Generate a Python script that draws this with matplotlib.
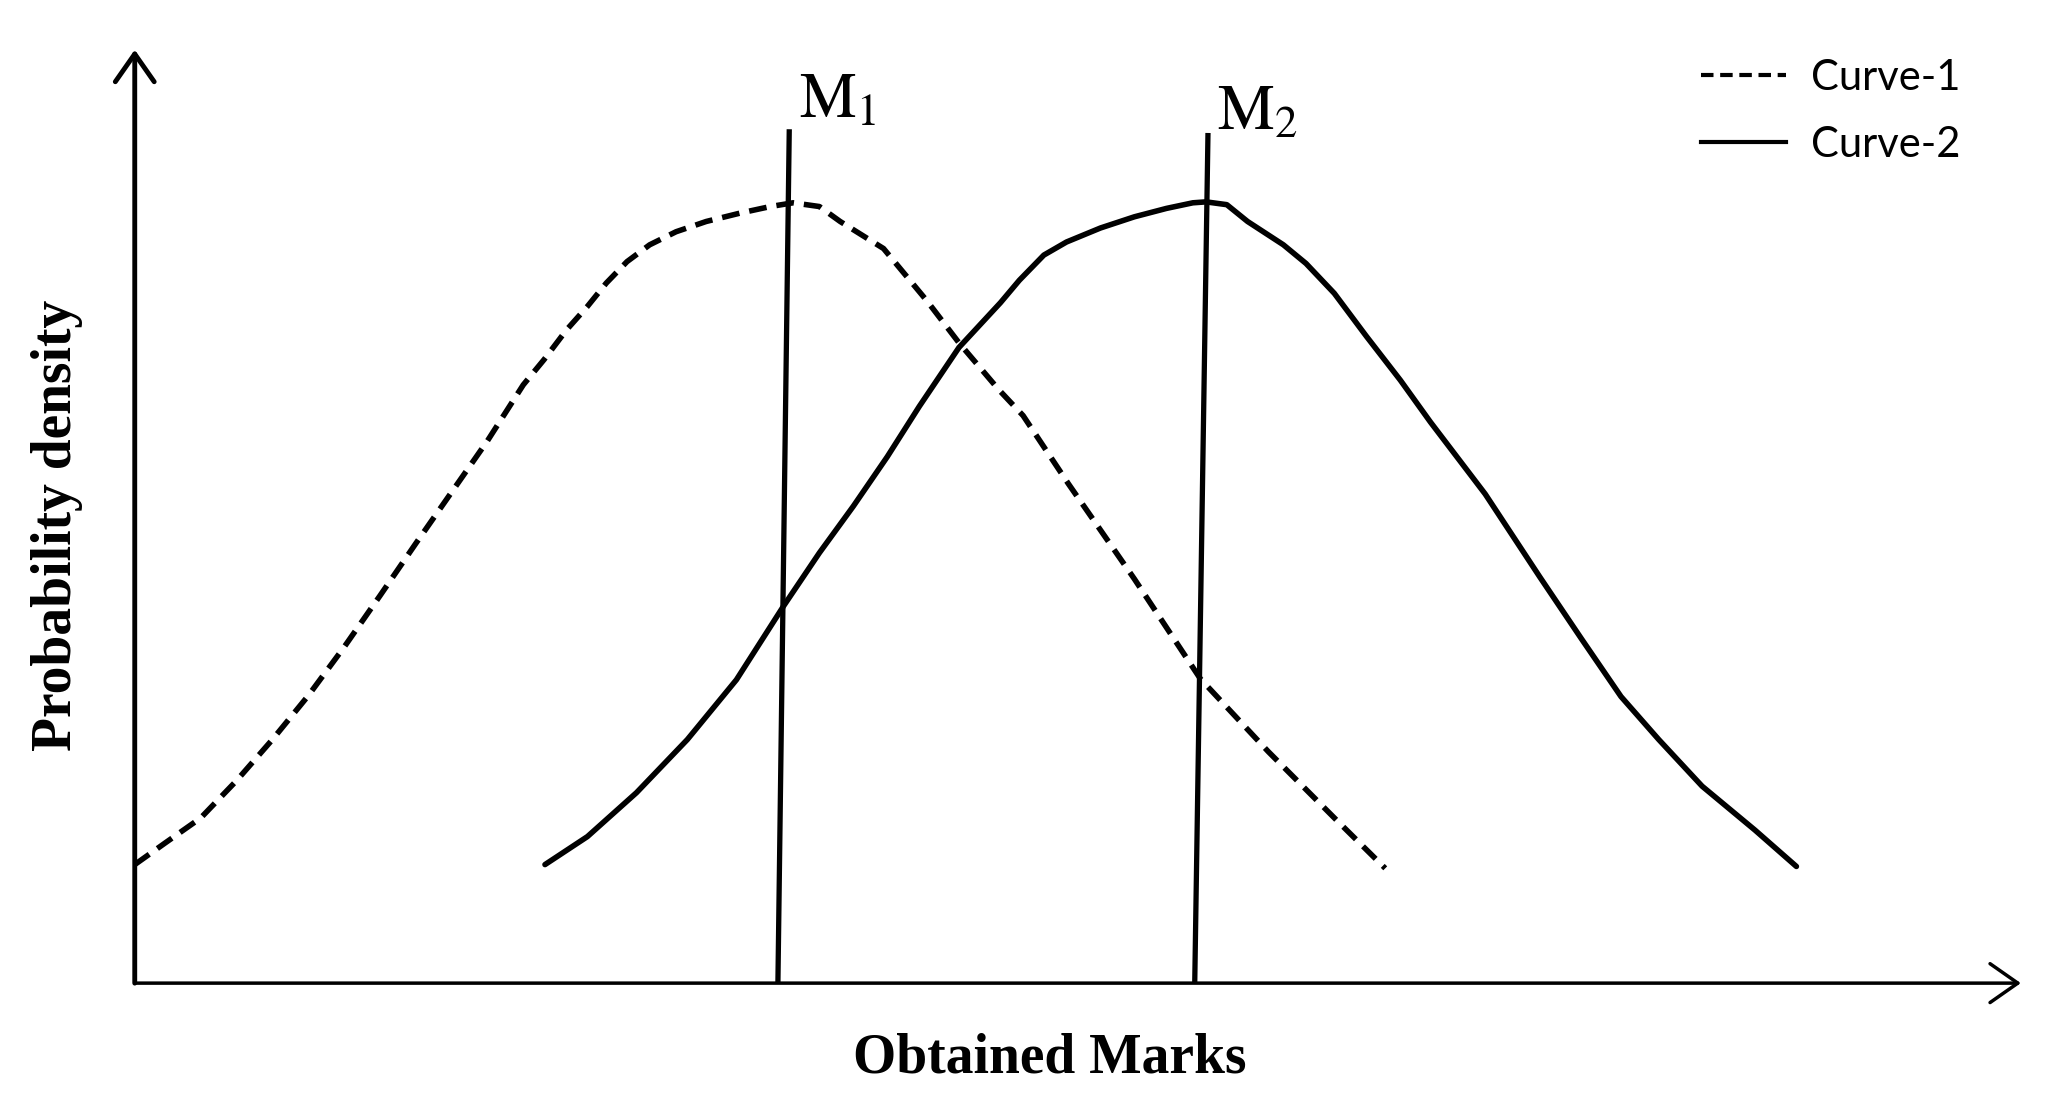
import matplotlib.pyplot as plt
from matplotlib.lines import Line2D

# curve 1 (dashed): marks on 0-100, density on 0-1
marks_1 = [0, 1.6, 3.5, 5.4, 7.3, 9.2, 11.1, 13.0, 14.9, 16.8, 18.7, 20.6, 21.7,
           22.9, 24.0, 25.0, 26.1, 27.3, 28.7, 30.3, 32.1, 33.7, 34.9, 36.3, 37.4,
           39.7, 42.0, 43.7, 45.8, 47.1, 49.5, 53.0, 56.5, 60.1, 63.7, 66.3]
density_1 = [0.127, 0.150, 0.177, 0.217, 0.261, 0.308, 0.360, 0.415, 0.471, 0.526,
             0.581, 0.641, 0.668, 0.700, 0.725, 0.750, 0.773, 0.791, 0.805, 0.816,
             0.825, 0.832, 0.836, 0.832, 0.816, 0.787, 0.731, 0.686, 0.636, 0.608,
             0.535, 0.433, 0.326, 0.248, 0.175, 0.123]

# curve 2 (solid)
marks_2 = [21.75, 24.0, 26.6, 29.3, 31.9, 34.4, 36.3, 38.1, 39.9, 41.6, 43.7, 45.9,
           46.9, 48.2, 49.4, 51.2, 53.0, 54.7, 56.1, 56.8, 57.9, 59.0, 60.9, 62.1,
           63.6, 65.3, 67.1, 68.7, 71.6, 74.5, 76.7, 78.8, 80.8, 83.1, 85.9, 88.1]
density_2 = [0.127, 0.157, 0.204, 0.261, 0.325, 0.404, 0.461, 0.511, 0.564, 0.618,
             0.681, 0.729, 0.753, 0.780, 0.794, 0.809, 0.821, 0.830, 0.836, 0.837,
             0.834, 0.816, 0.791, 0.771, 0.739, 0.693, 0.646, 0.601, 0.524, 0.435,
             0.369, 0.307, 0.261, 0.211, 0.164, 0.125]

# mean markers: (x at top, x at bottom, top height)
mean_labels = [r"$\mathrm{M}_1$", r"$\mathrm{M}_2$"]
mean_x_top = [34.7, 56.9]
mean_x_bottom = [34.1, 56.2]
mean_top = [0.912, 0.908]
label_pos = [(35.2, 0.927), (57.4, 0.914)]

series_names = ["Curve-1", "Curve-2"]

plt.rcParams["mathtext.fontset"] = "stix"

fig = plt.figure(figsize=(20.51, 11.1), dpi=100)
ax = fig.add_axes([0.0657, 0.1143, 0.9196, 0.8409])
ax.set_xlim(0, 100)
ax.set_ylim(0, 1)
ax.axis("off")

lw = 4
ax.plot(marks_1, density_1, color="black", lw=lw, dashes=(3.2, 1.8),
        solid_joinstyle="round", dash_capstyle="butt")
ax.plot(marks_2, density_2, color="black", lw=lw, solid_joinstyle="round",
        solid_capstyle="round")

for i in range(len(mean_labels)):
    ax.plot([mean_x_top[i], mean_x_bottom[i]], [mean_top[i], 0], color="black", lw=3.8)
    ax.text(label_pos[i][0], label_pos[i][1], mean_labels[i], fontsize=46,
            ha="left", va="baseline", color="black")

# axes with open arrow heads
ax.annotate("", xy=(0, 1), xytext=(0, 0), xycoords="axes fraction",
            arrowprops=dict(arrowstyle="->,head_length=0.5,head_width=0.35",
                            lw=3.5, color="black", mutation_scale=40,
                            shrinkA=0, shrinkB=0))
ax.annotate("", xy=(1, 0), xytext=(0, 0), xycoords="axes fraction",
            arrowprops=dict(arrowstyle="->,head_length=0.5,head_width=0.35",
                            lw=2.5, color="black", mutation_scale=40,
                            shrinkA=0, shrinkB=0))

fig.text(0.512, 0.046, "Obtained Marks", fontsize=40, fontweight="bold",
         family="Liberation Serif", ha="center", va="center")
fig.text(0.028, 0.527, "Probability density", fontsize=40, fontweight="bold",
         family="Liberation Serif", ha="center", va="center", rotation=90)

handles = [Line2D([], [], color="black", lw=3, dashes=(3, 1.6)),
           Line2D([], [], color="black", lw=3)]
fig.legend(handles, series_names, loc="upper right", bbox_to_anchor=(0.956, 0.947),
           bbox_transform=fig.transFigure, frameon=False, prop=dict(family="Lato", size=30),
           handlelength=2.05, handletextpad=0.6, labelspacing=0.7,
           borderpad=0, borderaxespad=0)

fig.savefig("out.png", dpi=100)
